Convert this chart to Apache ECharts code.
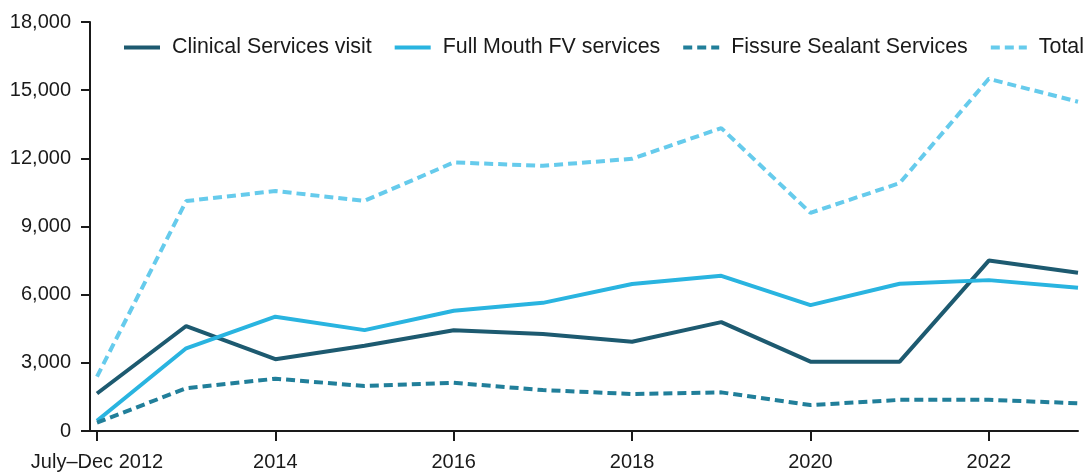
<!DOCTYPE html>
<html>
<head>
<meta charset="utf-8">
<script src="https://cdn.jsdelivr.net/npm/echarts@6/dist/echarts.min.js"></script>
<style>
  html, body { margin: 0; padding: 0; background: #fff; }
  #container { width: 1088px; height: 473px; }
</style>
</head>
<body>
<div id="container"></div>
<script>
// categories and values
var years = ['July\u2013Dec 2012', '2013', '2014', '2015', '2016', '2017', '2018', '2019', '2020', '2021', '2022', '2023'];
var clinical = [1650, 4620, 3160, 3750, 4430, 4270, 3930, 4790, 3050, 3050, 7500, 6960];
var fullMouth = [450, 3640, 5030, 4440, 5290, 5640, 6470, 6830, 5540, 6480, 6640, 6300];
var fissure = [370, 1880, 2300, 1980, 2120, 1800, 1630, 1700, 1140, 1370, 1370, 1220];
var total = [2390, 10120, 10560, 10130, 11820, 11670, 11980, 13330, 9600, 10910, 15500, 14490];
var yTicks = { min: 0, max: 18000, interval: 3000 };

var colors = ['#1d5a70', '#29b4e0', '#217f9a', '#66cbec'];
var font = 'Liberation Sans, Arial, sans-serif';
var ink = '#1a1a1a';

var dom = document.getElementById('container');
var myChart = echarts.init(dom, null, { renderer: 'canvas' });

function lineSeries(name, data, color, dashed) {
    return {
        name: name,
        type: 'line',
        data: data,
        symbol: 'none',
        lineStyle: { color: color, width: 4, type: dashed ? [9, 5] : 'solid' },
        itemStyle: { color: color },
        emphasis: { disabled: true }
    };
}

var option = {
    animation: false,
    color: colors,
    textStyle: { fontFamily: font },
    grid: [
        { left: 97, right: 10, top: 22, bottom: 42 },
        // thin strip so the x axis line reaches the shifted y axis
        { left: 90, width: 8, top: 22, bottom: 42 }
    ],
    legend: {
        left: 122,
        top: 37,
        width: 1000,
        padding: 0,
        itemWidth: 36,
        itemHeight: 4,
        itemGap: 21,
        itemStyle: { opacity: 0 },
        lineStyle: { width: 4 },
        textStyle: { fontSize: 21.4, color: ink, fontFamily: font, padding: [0, 0, 0, 7] },
        data: ['Clinical Services visit', 'Full Mouth FV services', 'Fissure Sealant Services', 'Total']
    },
    xAxis: [
        {
            type: 'category',
            gridIndex: 0,
            data: years,
            boundaryGap: false,
            axisLine: { lineStyle: { color: ink, width: 2 } },
            axisTick: { interval: 1, length: 10, lineStyle: { color: ink, width: 2 } },
            axisLabel: { interval: 1, fontSize: 20, color: ink, margin: 21, fontFamily: font },
            splitLine: { show: false }
        },
        {
            type: 'value',
            gridIndex: 1,
            min: 0,
            max: 1,
            axisLine: { lineStyle: { color: ink, width: 2 } },
            axisTick: { show: false },
            axisLabel: { show: false },
            splitLine: { show: false }
        }
    ],
    yAxis: [
        {
            type: 'value',
            gridIndex: 0,
            min: yTicks.min,
            max: yTicks.max,
            interval: yTicks.interval,
            offset: 7,
            axisLine: { show: true, lineStyle: { color: ink, width: 2 } },
            axisTick: { show: true, length: 9, lineStyle: { color: ink, width: 2 } },
            axisLabel: {
                fontSize: 20,
                color: ink,
                margin: 19,
                fontFamily: font,
                formatter: function (v) { return v.toLocaleString('en-US'); }
            },
            splitLine: { show: false }
        },
        {
            type: 'value',
            gridIndex: 1,
            show: false
        }
    ],
    series: [
        lineSeries('Clinical Services visit', clinical, colors[0], false),
        lineSeries('Full Mouth FV services', fullMouth, colors[1], false),
        lineSeries('Fissure Sealant Services', fissure, colors[2], true),
        lineSeries('Total', total, colors[3], true)
    ]
};

myChart.setOption(option);
window.addEventListener('resize', myChart.resize);
</script>
</body>
</html>
